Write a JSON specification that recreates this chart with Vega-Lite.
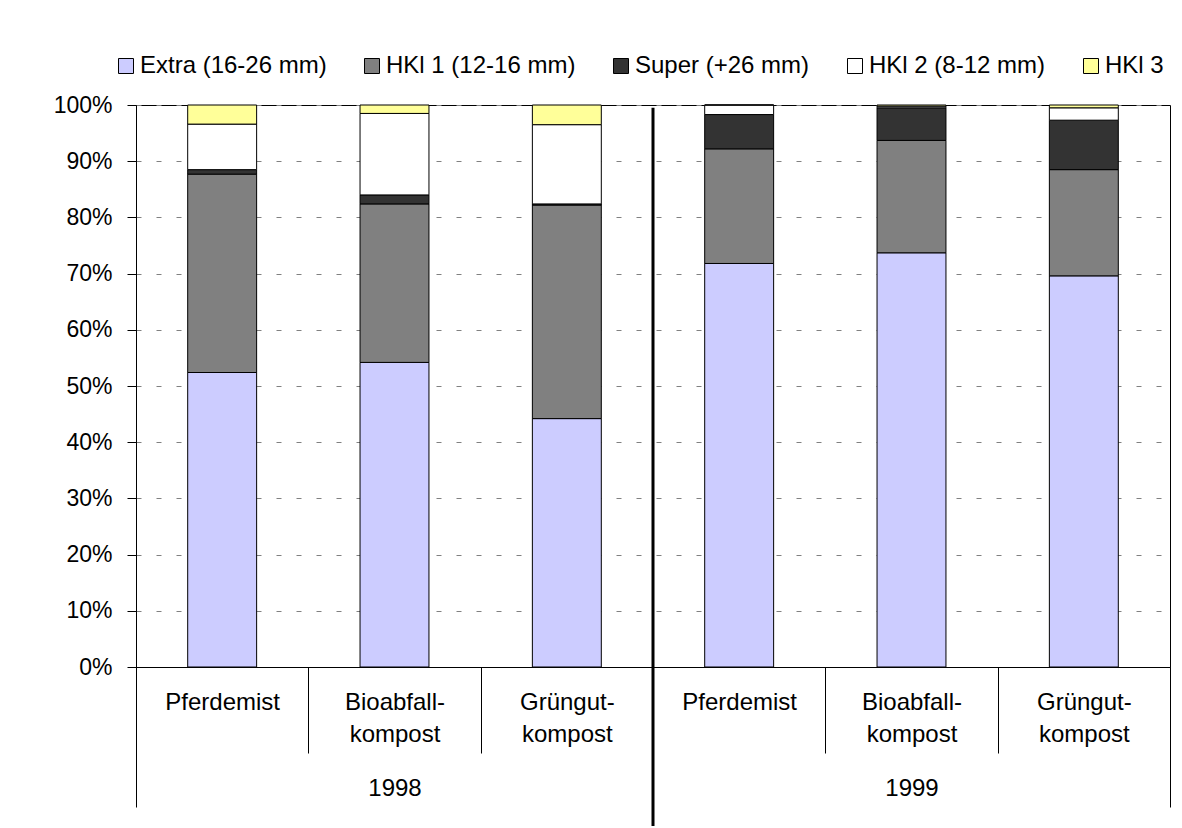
{
  "$schema": "https://vega.github.io/schema/vega-lite/v6.json",
  "width": 1034,
  "height": 562,
  "autosize": {"type": "none"},
  "padding": {"left": 136, "top": 105, "right": 12, "bottom": 161},
  "background": "white",
  "config": {
    "font": "Liberation Sans",
    "view": {"stroke": "#000", "strokeWidth": 1}
  },
  "datasets": {
    "shares": [
      {"sample": "1998 Pferdemist", "klasse": "Extra (16-26 mm)", "rang": 1, "share": 0.524},
      {"sample": "1998 Pferdemist", "klasse": "HKl 1 (12-16 mm)", "rang": 2, "share": 0.353},
      {"sample": "1998 Pferdemist", "klasse": "Super (+26 mm)", "rang": 3, "share": 0.008},
      {"sample": "1998 Pferdemist", "klasse": "HKl 2 (8-12 mm)", "rang": 4, "share": 0.081},
      {"sample": "1998 Pferdemist", "klasse": "HKl 3", "rang": 5, "share": 0.034},
      {"sample": "1998 Bioabfall-kompost", "klasse": "Extra (16-26 mm)", "rang": 1, "share": 0.542},
      {"sample": "1998 Bioabfall-kompost", "klasse": "HKl 1 (12-16 mm)", "rang": 2, "share": 0.282},
      {"sample": "1998 Bioabfall-kompost", "klasse": "Super (+26 mm)", "rang": 3, "share": 0.016},
      {"sample": "1998 Bioabfall-kompost", "klasse": "HKl 2 (8-12 mm)", "rang": 4, "share": 0.145},
      {"sample": "1998 Bioabfall-kompost", "klasse": "HKl 3", "rang": 5, "share": 0.015},
      {"sample": "1998 Grüngut-kompost", "klasse": "Extra (16-26 mm)", "rang": 1, "share": 0.442},
      {"sample": "1998 Grüngut-kompost", "klasse": "HKl 1 (12-16 mm)", "rang": 2, "share": 0.380},
      {"sample": "1998 Grüngut-kompost", "klasse": "Super (+26 mm)", "rang": 3, "share": 0.002},
      {"sample": "1998 Grüngut-kompost", "klasse": "HKl 2 (8-12 mm)", "rang": 4, "share": 0.141},
      {"sample": "1998 Grüngut-kompost", "klasse": "HKl 3", "rang": 5, "share": 0.035},
      {"sample": "1999 Pferdemist", "klasse": "Extra (16-26 mm)", "rang": 1, "share": 0.718},
      {"sample": "1999 Pferdemist", "klasse": "HKl 1 (12-16 mm)", "rang": 2, "share": 0.204},
      {"sample": "1999 Pferdemist", "klasse": "Super (+26 mm)", "rang": 3, "share": 0.061},
      {"sample": "1999 Pferdemist", "klasse": "HKl 2 (8-12 mm)", "rang": 4, "share": 0.017},
      {"sample": "1999 Pferdemist", "klasse": "HKl 3", "rang": 5, "share": 0.0},
      {"sample": "1999 Bioabfall-kompost", "klasse": "Extra (16-26 mm)", "rang": 1, "share": 0.737},
      {"sample": "1999 Bioabfall-kompost", "klasse": "HKl 1 (12-16 mm)", "rang": 2, "share": 0.200},
      {"sample": "1999 Bioabfall-kompost", "klasse": "Super (+26 mm)", "rang": 3, "share": 0.058},
      {"sample": "1999 Bioabfall-kompost", "klasse": "HKl 2 (8-12 mm)", "rang": 4, "share": 0.003},
      {"sample": "1999 Bioabfall-kompost", "klasse": "HKl 3", "rang": 5, "share": 0.002},
      {"sample": "1999 Grüngut-kompost", "klasse": "Extra (16-26 mm)", "rang": 1, "share": 0.696},
      {"sample": "1999 Grüngut-kompost", "klasse": "HKl 1 (12-16 mm)", "rang": 2, "share": 0.189},
      {"sample": "1999 Grüngut-kompost", "klasse": "Super (+26 mm)", "rang": 3, "share": 0.088},
      {"sample": "1999 Grüngut-kompost", "klasse": "HKl 2 (8-12 mm)", "rang": 4, "share": 0.022},
      {"sample": "1999 Grüngut-kompost", "klasse": "HKl 3", "rang": 5, "share": 0.005}
    ],
    "years": [{"year": "1999"}]
  },
  "layer": [
    {
      "data": {"name": "shares"},
      "mark": {"type": "bar", "stroke": "#000", "strokeWidth": 1, "width": {"band": 0.4}},
      "encoding": {
        "x": {
          "field": "sample",
          "type": "nominal",
          "sort": null,
          "scale": {"paddingInner": 0, "paddingOuter": 0},
          "axis": {
            "title": null,
            "orient": "bottom",
            "tickBand": "extent",
            "tickSize": 86,
            "tickColor": "#000",
            "domainColor": "#000",
            "labelFontSize": 24,
            "labelColor": "#000",
            "labelLineHeight": 32,
            "labelPadding": -63,
            "labelAngle": 0,
            "labelLimit": 300,
            "labelOverlap": false,
            "labelBound": false,
            "labelExpr": "test(/-/, datum.label) ? [split(slice(datum.label, 5), '-')[0] + '-', split(slice(datum.label, 5), '-')[1]] : slice(datum.label, 5)"
          }
        },
        "y": {
          "field": "share",
          "type": "quantitative",
          "stack": "zero",
          "scale": {"domain": [0, 1], "nice": false},
          "axis": {
            "title": null,
            "format": "%",
            "values": [0, 0.1, 0.2, 0.3, 0.4, 0.5, 0.6, 0.7, 0.8, 0.9, 1],
            "labelFontSize": 23,
            "labelColor": "#000",
            "tickSize": 9,
            "tickColor": "#000",
            "domainColor": "#000",
            "labelPadding": 15,
            "grid": true,
            "gridColor": "#808080",
            "gridDash": [5, 15],
            "gridWidth": 1
          }
        },
        "order": {"field": "rang", "type": "quantitative", "sort": "ascending"},
        "color": {
          "field": "klasse",
          "type": "nominal",
          "sort": ["Extra (16-26 mm)", "HKl 1 (12-16 mm)", "Super (+26 mm)", "HKl 2 (8-12 mm)", "HKl 3"],
          "scale": {
            "domain": ["Extra (16-26 mm)", "HKl 1 (12-16 mm)", "Super (+26 mm)", "HKl 2 (8-12 mm)", "HKl 3"],
            "range": ["#CCCCFF", "#808080", "#333333", "#FFFFFF", "#FFFF99"]
          },
          "legend": {
            "orient": "none",
            "legendX": -22,
            "legendY": -51,
            "direction": "horizontal",
            "title": null,
            "symbolType": "square",
            "symbolSize": 225,
            "symbolStrokeColor": "#000",
            "symbolStrokeWidth": 1,
            "symbolOpacity": 1,
            "labelFontSize": 24,
            "labelColor": "#000",
            "labelOffset": 2,
            "columnPadding": 33,
            "labelLimit": 400
          }
        }
      }
    },
    {
      "data": {"name": "years"},
      "mark": {"type": "rule", "strokeWidth": 3, "color": "#000"},
      "encoding": {
        "x": {
          "field": "year",
          "type": "nominal",
          "bandPosition": 0,
          "scale": {"type": "band", "domain": ["1998", "1999"], "paddingInner": 0, "paddingOuter": 0},
          "axis": {
            "title": null,
            "orient": "bottom",
            "tickBand": "extent",
            "tickSize": 140,
            "tickColor": "#000",
            "domain": false,
            "labelFontSize": 24,
            "labelColor": "#000",
            "labelPadding": -31,
            "labelAngle": 0,
            "labelOverlap": false
          }
        },
        "y": {"datum": 0.995},
        "y2": {"datum": -0.283}
      }
    }
  ],
  "resolve": {"scale": {"x": "independent"}, "axis": {"x": "independent"}}
}
